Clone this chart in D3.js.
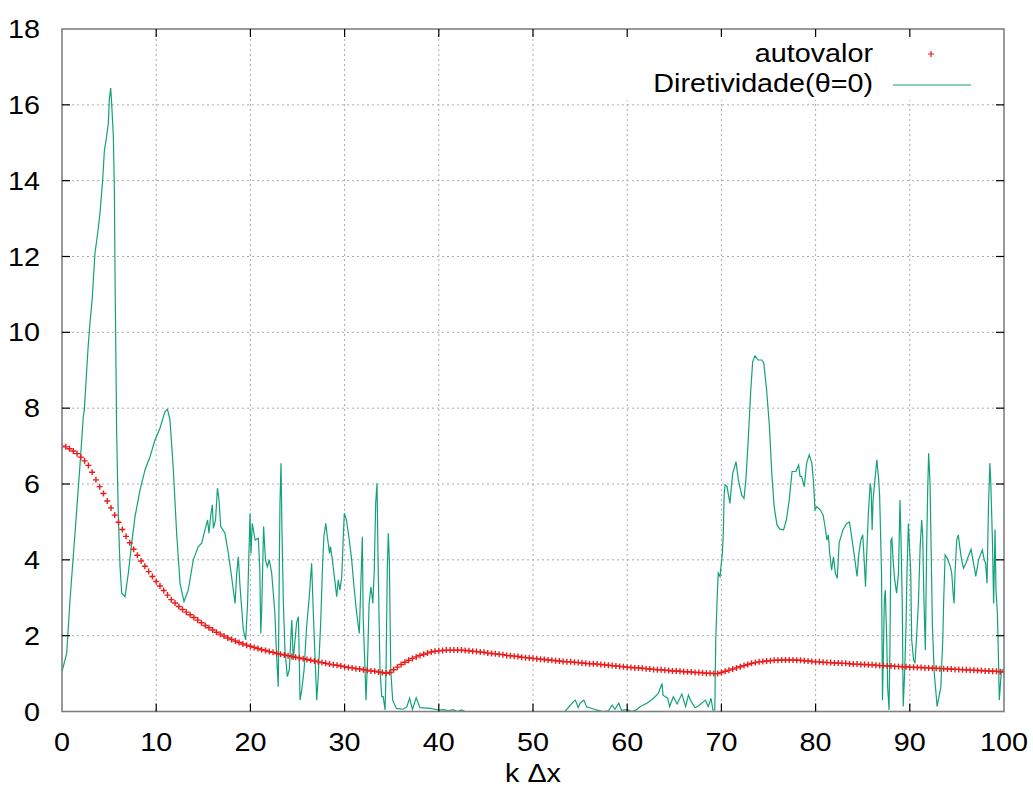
<!DOCTYPE html>
<html>
<head>
<meta charset="utf-8">
<script src="https://cdn.jsdelivr.net/npm/d3@7"></script>
<style>
  html, body { margin: 0; padding: 0; background: #fff; }
  svg text { font-family: "Liberation Sans", Arial, sans-serif; fill: #000; }
</style>
</head>
<body>
<svg id="chart" width="1033" height="801"></svg>
<script>
// Axis ticks
const xTicks = [0, 10, 20, 30, 40, 50, 60, 70, 80, 90, 100];
const yTicks = [0, 2, 4, 6, 8, 10, 12, 14, 16, 18];
const xTitle = "k \u0394x";
const legendLabels = ["autovalor", "Diretividade(\u03b8=0)"];

// Eigenvalue sampled every 0.4 in k·Δx, from 0 to 100
const autovalorPasso = 0.4;
const autovalor = [
  7.00,6.98,6.93,6.87,6.80,6.71,6.61,6.49,6.31,6.11,
  5.93,5.75,5.55,5.37,5.18,4.99,4.80,4.62,4.45,4.28,
  4.12,3.97,3.83,3.69,3.56,3.43,3.31,3.19,3.07,2.95,
  2.86,2.77,2.69,2.62,2.55,2.48,2.41,2.34,2.27,2.21,
  2.15,2.09,2.04,1.99,1.94,1.90,1.86,1.82,1.78,1.75,
  1.72,1.69,1.66,1.63,1.61,1.58,1.56,1.53,1.51,1.49,
  1.47,1.45,1.43,1.41,1.39,1.37,1.35,1.33,1.31,1.29,
  1.27,1.25,1.23,1.22,1.20,1.18,1.16,1.15,1.13,1.12,
  1.10,1.09,1.07,1.06,1.04,1.03,1.01,1.03,1.10,1.17,
  1.24,1.30,1.35,1.40,1.44,1.48,1.51,1.54,1.57,1.59,
  1.60,1.61,1.62,1.62,1.62,1.62,1.62,1.61,1.60,1.59,
  1.58,1.57,1.56,1.54,1.53,1.52,1.51,1.50,1.48,1.47,
  1.46,1.45,1.43,1.42,1.41,1.40,1.39,1.38,1.37,1.36,
  1.35,1.34,1.33,1.32,1.31,1.31,1.30,1.29,1.28,1.27,
  1.26,1.26,1.25,1.24,1.23,1.22,1.21,1.20,1.19,1.18,
  1.17,1.16,1.15,1.15,1.14,1.13,1.12,1.11,1.10,1.10,
  1.09,1.08,1.07,1.07,1.06,1.05,1.05,1.04,1.03,1.03,
  1.02,1.01,1.01,1.00,1.00,1.03,1.06,1.09,1.12,1.15,
  1.18,1.21,1.24,1.27,1.29,1.31,1.32,1.33,1.34,1.35,
  1.35,1.36,1.36,1.36,1.36,1.35,1.35,1.34,1.33,1.32,
  1.31,1.31,1.30,1.29,1.29,1.28,1.28,1.27,1.27,1.26,
  1.25,1.25,1.24,1.24,1.23,1.23,1.22,1.21,1.21,1.20,
  1.20,1.19,1.19,1.18,1.18,1.17,1.17,1.16,1.16,1.15,
  1.15,1.14,1.14,1.13,1.13,1.12,1.12,1.11,1.11,1.10,
  1.10,1.09,1.09,1.08,1.08,1.07,1.07,1.06,1.06,1.05,
  1.05
];

// Directivity at θ=0: [k·Δx, value]
const diretividade = [
  [0,1.05],[0.5,1.54],[0.85,2.94],[1.38,4.7],[1.9,6.46],[2.26,7.78],[2.37,7.95],[2.62,9.0],[2.8,9.71],[2.97,10.24],
  [3.22,10.94],[3.5,12.09],[3.79,12.62],[4.03,13.14],[4.32,14.02],[4.5,14.8],[4.74,15.17],[4.92,15.52],[5.02,16.13],[5.17,16.44],
  [5.27,16.05],[5.45,15.17],[5.56,13.76],[5.63,11.47],[5.73,9.14],[5.8,7.35],[5.98,5.14],[6.16,3.82],[6.34,3.12],[6.69,3.03],
  [7.04,3.65],[7.4,4.44],[7.75,5.14],[8.28,5.84],[8.81,6.37],[9.34,6.72],[9.87,7.16],[10.4,7.47],[10.93,7.91],[11.2,7.97],
  [11.46,7.69],[11.8,6.46],[12.17,4.7],[12.53,3.38],[12.95,2.9],[13.4,3.2],[13.94,4.0],[14.47,4.35],[14.83,4.44],[15.18,4.79],
  [15.46,5.05],[15.6,4.7],[15.82,5.23],[15.96,5.45],[16.07,4.83],[16.3,5.05],[16.5,5.89],[16.67,5.58],[16.85,4.88],[17.3,4.7],
  [17.66,4.17],[18.0,3.56],[18.37,2.85],[18.55,3.65],[18.72,4.08],[18.9,3.29],[19.25,2.15],[19.5,1.89],[19.7,2.85],[19.96,5.23],
  [20.06,4.17],[20.2,4.96],[20.5,4.52],[20.84,4.57],[21.0,3.73],[21.1,2.06],[21.2,2.68],[21.4,4.88],[21.6,4.0],[21.8,3.82],
  [22.0,4.0],[22.26,3.65],[22.6,2.59],[22.8,1.36],[22.96,0.65],[23.07,3.91],[23.14,5.49],[23.25,6.55],[23.35,4.79],[23.5,2.85],
  [23.67,1.62],[23.92,0.92],[24.13,1.1],[24.3,1.97],[24.4,2.41],[24.55,1.36],[24.9,2.33],[25.1,2.5],[25.27,0.3],[25.45,0.57],
  [25.7,1.1],[25.97,2.24],[26.25,3.03],[26.5,3.91],[26.68,2.59],[26.86,1.45],[27.04,0.3],[27.2,0.92],[27.46,2.33],[27.67,3.91],
  [27.8,4.61],[28.0,4.96],[28.17,4.61],[28.4,4.17],[28.5,4.35],[28.7,4.0],[29.0,3.38],[29.16,3.03],[29.33,3.47],[29.5,3.2],
  [29.7,3.56],[29.86,4.61],[29.97,5.23],[30.2,5.05],[30.5,4.52],[30.75,4.0],[31.0,3.29],[31.28,2.59],[31.56,2.06],[31.74,3.47],
  [31.88,4.61],[31.98,2.41],[32.17,1.1],[32.27,0.3],[32.45,1.45],[32.6,2.85],[32.8,3.29],[33.0,2.85],[33.15,3.73],[33.3,5.49],
  [33.44,6.02],[33.58,3.56],[33.76,1.1],[33.94,0.39],[34.1,0.39],[34.3,0.04],[34.4,1.1],[34.53,3.73],[34.64,4.7],[34.75,4.0],
  [34.9,1.1],[35.1,0.3],[35.5,0.08],[36.2,0.06],[36.6,0.12],[36.9,0.35],[37.2,0.05],[37.6,0.36],[38.0,0.1],[39.1,0.08],
  [40.0,0.04],[40.5,0.05],[41.0,0.02],[41.5,0.05],[42.0,0.0],[42.4,0.04],[42.8,0.0],[53.4,0.0],[54.3,0.26],[54.5,0.3],
  [54.8,0.1],[55.0,0.22],[55.4,0.3],[55.7,0.12],[56.0,0.1],[56.5,0.06],[56.9,0.03],[57.4,0.0],[58.0,0.02],[58.4,0.17],
  [58.7,0.06],[59.1,0.22],[59.4,0.03],[60.0,0.05],[60.5,0.0],[61.0,0.05],[61.4,0.13],[62.1,0.22],[62.8,0.35],[63.3,0.48],
  [63.7,0.74],[63.8,0.43],[64.3,0.35],[64.5,0.13],[64.9,0.39],[65.3,0.2],[65.8,0.46],[66.2,0.13],[66.5,0.43],[66.8,0.26],
  [67.2,0.1],[67.6,0.15],[68.1,0.26],[68.3,0.3],[68.6,0.13],[68.9,0.35],[69.1,0.04],[69.3,0.04],[69.4,1.89],[69.57,3.12],
  [69.67,3.65],[69.85,3.56],[70.1,4.17],[70.2,4.7],[70.3,5.76],[70.4,5.98],[70.6,5.93],[70.9,5.49],[71.2,6.28],[71.55,6.59],
  [71.8,6.11],[72.15,5.71],[72.4,5.62],[72.6,6.11],[72.85,7.16],[73.1,8.4],[73.32,9.23],[73.57,9.38],[73.9,9.27],[74.3,9.27],
  [74.5,9.19],[74.8,8.48],[75.1,7.51],[75.35,6.28],[75.6,5.4],[75.9,4.92],[76.2,4.81],[76.6,4.79],[76.9,5.05],[77.2,5.58],
  [77.5,6.33],[77.9,6.33],[78.2,6.5],[78.35,6.2],[78.5,6.2],[78.8,5.93],[79.05,6.55],[79.33,6.77],[79.6,6.55],[79.76,6.11],
  [79.94,5.32],[80.1,5.4],[80.5,5.32],[80.8,5.18],[81.0,4.88],[81.2,4.52],[81.35,4.66],[81.5,4.17],[81.7,3.73],[81.9,4.08],
  [82.1,3.65],[82.3,3.51],[82.5,4.45],[82.9,4.79],[83.3,4.96],[83.6,5.0],[83.9,4.48],[84.2,3.95],[84.4,3.56],[84.6,4.17],
  [84.8,4.52],[85.0,4.66],[85.1,4.26],[85.3,3.29],[85.4,4.0],[85.6,5.23],[85.8,6.02],[85.9,5.84],[86.0,4.79],[86.1,5.58],
  [86.3,6.11],[86.5,6.64],[86.7,6.11],[86.8,5.67],[87.0,3.65],[87.1,0.3],[87.3,2.94],[87.4,3.2],[87.55,1.89],[87.65,0.65],
  [87.8,0.04],[87.9,1.89],[88.0,4.52],[88.1,4.57],[88.25,3.91],[88.4,3.47],[88.6,3.12],[88.8,3.65],[88.96,5.58],[89.07,4.52],
  [89.2,2.85],[89.3,0.13],[89.45,1.0],[89.6,2.24],[89.7,3.65],[89.85,4.96],[89.95,4.44],[90.1,3.65],[90.2,1.89],[90.4,1.36],
  [90.55,1.27],[90.7,1.89],[90.9,2.77],[91.1,4.35],[91.26,5.05],[91.37,4.61],[91.5,2.94],[91.65,1.62],[91.8,4.52],[91.9,5.84],
  [92.0,6.81],[92.15,6.02],[92.25,4.52],[92.4,2.24],[92.6,1.0],[92.9,0.13],[93.1,0.39],[93.3,0.65],[93.5,1.89],[93.6,2.94],
  [93.75,4.13],[93.98,4.04],[94.3,3.82],[94.45,3.65],[94.6,3.12],[94.7,2.85],[94.8,3.65],[94.98,4.52],[95.15,4.66],[95.3,4.35],
  [95.5,4.0],[95.7,3.78],[95.96,3.91],[96.2,4.08],[96.5,4.28],[96.7,4.0],[96.9,3.73],[97.0,3.56],[97.3,4.0],[97.5,4.13],
  [97.7,4.26],[97.9,4.0],[98.05,3.91],[98.2,3.38],[98.35,5.4],[98.5,6.55],[98.6,6.02],[98.77,4.52],[98.9,2.85],[99.05,4.8],
  [99.15,3.2],[99.3,2.59],[99.4,1.54],[99.5,0.3],[99.7,1.0],[99.8,1.1],[100,1.1]
];

const svg = d3.select("#chart");
const plotL = 62, plotR = 1004, plotT = 29, plotB = 711.5;
const x = d3.scaleLinear().domain([0, 100]).range([plotL, plotR]);
const y = d3.scaleLinear().domain([0, 18]).range([plotB, plotT]);

const gridColor = "#ababab";
const borderColor = "#808080";
const red = "#ec1a1a";
const green = "#12a279";
const fontSize = 25;
const textStretch = 1.15;   // the labels use a slightly widened sans face

// Text helper: places a horizontally widened label at (px, py)
function label(g, px, py, str, anchor) {
  return g.append("text")
    .attr("transform", `translate(${px},${py}) scale(${textStretch},1)`)
    .attr("text-anchor", anchor)
    .attr("font-size", fontSize)
    .text(str);
}

// Dotted grid
const grid = svg.append("g");
grid.selectAll("line.gx").data(xTicks.slice(1, -1)).join("line")
  .attr("x1", d => x(d)).attr("x2", d => x(d))
  .attr("y1", plotT).attr("y2", plotB)
  .attr("stroke", gridColor).attr("stroke-width", 1).attr("stroke-dasharray", "2,3");
grid.selectAll("line.gy").data(yTicks.slice(1, -1)).join("line")
  .attr("x1", plotL).attr("x2", plotR)
  .attr("y1", d => y(d)).attr("y2", d => y(d))
  .attr("stroke", gridColor).attr("stroke-width", 1).attr("stroke-dasharray", "2,3");

// Clip to plot area
svg.append("clipPath").attr("id", "plotArea")
  .append("rect").attr("x", plotL).attr("y", plotT)
  .attr("width", plotR - plotL).attr("height", plotB - plotT);

const plot = svg.append("g").attr("clip-path", "url(#plotArea)");

// Directivity line
const line = d3.line().x(d => x(d[0])).y(d => y(d[1]));
plot.append("path").datum(diretividade)
  .attr("d", line)
  .attr("fill", "none")
  .attr("stroke", green)
  .attr("stroke-width", 1.2)
  .attr("stroke-linejoin", "miter");

// Eigenvalue points as "+" markers
const plusPath = "M-3,0H3M0,-3V3";
plot.append("g").selectAll("path").data(autovalor).join("path")
  .attr("transform", (d, i) => `translate(${x(i * autovalorPasso)},${y(d)})`)
  .attr("d", plusPath)
  .attr("fill", "none")
  .attr("stroke", red)
  .attr("stroke-width", 1.4);

// Legend (opaque box)
svg.append("rect")
  .attr("x", 612).attr("y", plotT + 1)
  .attr("width", plotR - 1 - 612).attr("height", 70)
  .attr("fill", "#fff");

const legend = svg.append("g");
label(legend, 873, 62, legendLabels[0], "end");
legend.append("path")
  .attr("transform", "translate(931,54)")
  .attr("d", plusPath)
  .attr("fill", "none").attr("stroke", red).attr("stroke-width", 1.2);
label(legend, 873, 92, legendLabels[1], "end");
legend.append("line")
  .attr("x1", 893).attr("x2", 971).attr("y1", 85).attr("y2", 85)
  .attr("stroke", green).attr("stroke-width", 1.2);

// Border
svg.append("rect")
  .attr("x", plotL).attr("y", plotT)
  .attr("width", plotR - plotL).attr("height", plotB - plotT)
  .attr("fill", "none").attr("stroke", borderColor).attr("stroke-width", 1.6);

// Inward ticks on all four sides
const tickLen = 8;
const ticks = svg.append("g").attr("stroke", "#000").attr("stroke-width", 1.2);
xTicks.slice(1, -1).forEach(v => {
  ticks.append("line").attr("x1", x(v)).attr("x2", x(v)).attr("y1", plotB).attr("y2", plotB - tickLen);
  ticks.append("line").attr("x1", x(v)).attr("x2", x(v)).attr("y1", plotT).attr("y2", plotT + tickLen);
});
yTicks.slice(1, -1).forEach(v => {
  ticks.append("line").attr("x1", plotL).attr("x2", plotL + tickLen).attr("y1", y(v)).attr("y2", y(v));
  ticks.append("line").attr("x1", plotR).attr("x2", plotR - tickLen).attr("y1", y(v)).attr("y2", y(v));
});

// Tick labels
const xLab = svg.append("g");
xTicks.forEach(v => label(xLab, x(v), 751, v, "middle"));
const yLab = svg.append("g");
yTicks.forEach(v => label(yLab, 40, y(v) + 9, v, "end"));

// Axis title
label(svg, (plotL + plotR) / 2, 782, xTitle, "middle");
</script>
</body>
</html>
